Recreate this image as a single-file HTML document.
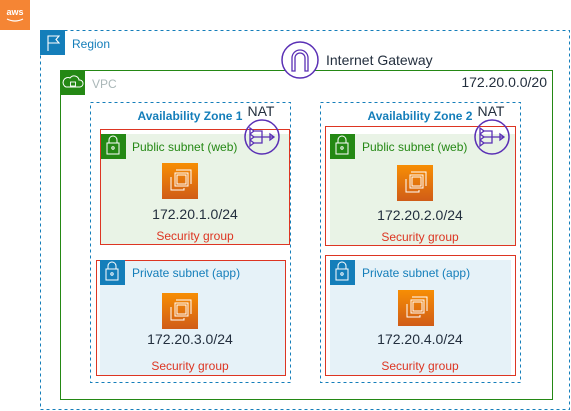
<!DOCTYPE html>
<html><head><meta charset="utf-8"><style>
html,body{margin:0;padding:0;background:#fff;}
svg{display:block;font-family:"Liberation Sans",sans-serif;}
</style></head><body>
<svg width="571" height="411" viewBox="0 0 571 411" xmlns="http://www.w3.org/2000/svg">
<rect x="0" y="0" width="30" height="30" fill="#F58534"/>
<text x="15" y="15" font-size="9" fill="#fff" text-anchor="middle" font-weight="bold">aws</text>
<path d="M7 19 Q15 23 23 19" stroke="#fff" stroke-width="1.2" fill="none"/>
<rect x="40.5" y="30.5" width="529" height="379" fill="none" stroke="#147EBA" stroke-dasharray="3,3"/>
<rect x="40" y="30" width="25" height="25" fill="#147EBA"/>
<path d="M48 51 V36 H59 L56 39.5 L59 43 H48" stroke="#fff" stroke-width="1.1" fill="none"/>
<text x="72" y="48" font-size="12" fill="#147EBA">Region</text>
<rect x="60.5" y="70.5" width="492" height="329" fill="none" stroke="#248814"/>
<rect x="60" y="70" width="25" height="25" fill="#248814"/>
<path d="M66 87 H80 A3.5 3.5 0 0 0 79 80 A5 5 0 0 0 70 78 A4 4 0 0 0 66 87 Z" stroke="#fff" stroke-width="1" fill="none"/>
<rect x="70.5" y="82" width="5" height="4" stroke="#fff" fill="none" stroke-width="0.9"/>
<text x="92" y="88" font-size="12" fill="#AAB7B8">VPC</text>
<text x="547" y="87" font-size="14" fill="#232F3E" text-anchor="end">172.20.0.0/20</text>
<circle cx="300" cy="60" r="18" fill="#fff" stroke="#5A30B5" stroke-width="1.5"/>
<path d="M292 71 V58 A8 8 0 0 1 308 58 V71 H305 V58 A5 5 0 0 0 295 58 V71 Z" stroke="#5A30B5" stroke-width="1.3" fill="none"/>
<text x="326" y="65" font-size="14" fill="#232F3E">Internet Gateway</text>
<rect x="90.5" y="102.5" width="200" height="280" fill="none" stroke="#147EBA" stroke-dasharray="3,3"/>
<text x="190" y="120" font-size="12" fill="#147EBA" font-weight="bold" text-anchor="middle">Availability Zone 1</text>
<rect x="320.5" y="102.5" width="200" height="280" fill="none" stroke="#147EBA" stroke-dasharray="3,3"/>
<text x="420" y="120" font-size="12" fill="#147EBA" font-weight="bold" text-anchor="middle">Availability Zone 2</text>

<rect x="101" y="134" width="189" height="111" fill="#E9F3E6"/>
<rect x="100.5" y="129.5" width="189" height="115" fill="none" stroke="#DD3522"/>
<rect x="101" y="134" width="25" height="25" fill="#248814"/>
<g stroke="#fff" fill="none" stroke-width="1"><rect x="107" y="143" width="12" height="11"/><path d="M109 143 V140 A4 4 0 0 1 117 140 V143"/><circle cx="113" cy="148" r="1.2"/></g>
<text x="132" y="151" font-size="12" fill="#248814">Public subnet (web)</text>
<rect x="330" y="134" width="185" height="111" fill="#E9F3E6"/>
<rect x="325.5" y="126.5" width="190" height="119" fill="none" stroke="#DD3522"/>
<rect x="330" y="134" width="25" height="25" fill="#248814"/>
<g stroke="#fff" fill="none" stroke-width="1"><rect x="336" y="143" width="12" height="11"/><path d="M338 143 V140 A4 4 0 0 1 346 140 V143"/><circle cx="342" cy="148" r="1.2"/></g>
<text x="362" y="151" font-size="12" fill="#248814">Public subnet (web)</text>

<rect x="100" y="260" width="185" height="116" fill="#E6F2F8"/>
<rect x="96.5" y="260.5" width="189" height="115" fill="none" stroke="#DD3522"/>
<rect x="100" y="260" width="25" height="25" fill="#147EBA"/>
<g stroke="#fff" fill="none" stroke-width="1"><rect x="106" y="269" width="12" height="11"/><path d="M108 269 V266 A4 4 0 0 1 116 266 V269"/><circle cx="112" cy="274" r="1.2"/></g>
<text x="132" y="277" font-size="12" fill="#147EBA">Private subnet (app)</text>
<rect x="330" y="260" width="181" height="116" fill="#E6F2F8"/>
<rect x="325.5" y="255.5" width="190" height="120" fill="none" stroke="#DD3522"/>
<rect x="330" y="260" width="25" height="25" fill="#147EBA"/>
<g stroke="#fff" fill="none" stroke-width="1"><rect x="336" y="269" width="12" height="11"/><path d="M338 269 V266 A4 4 0 0 1 346 266 V269"/><circle cx="342" cy="274" r="1.2"/></g>
<text x="362" y="277" font-size="12" fill="#147EBA">Private subnet (app)</text>

<defs>
<linearGradient id="ec2" x1="0" y1="0" x2="0" y2="1"><stop offset="0" stop-color="#F78E04"/><stop offset="1" stop-color="#D05C17"/></linearGradient>
<g id="chip">
<rect x="0" y="0" width="36" height="36" fill="url(#ec2)"/>
<g stroke="#fff" fill="none" stroke-width="1">
<path d="M9 14 V27 H22 V25"/><path d="M13 10 V23 H26 V10 Z"/><rect x="15" y="12" width="9" height="9"/>
<path d="M14 7 H29 V21"/>
</g></g>
</defs>
<use href="#chip" x="162" y="163"/>
<use href="#chip" x="397" y="165"/>
<use href="#chip" x="162" y="293"/>
<use href="#chip" x="398" y="290"/>

<g font-size="14" fill="#232F3E" text-anchor="middle">
<text x="195" y="219">172.20.1.0/24</text>
<text x="420" y="220">172.20.2.0/24</text>
<text x="190" y="344">172.20.3.0/24</text>
<text x="420" y="344">172.20.4.0/24</text>
</g>
<g font-size="12" fill="#DD3522" text-anchor="middle">
<text x="195" y="240">Security group</text>
<text x="420" y="241">Security group</text>
<text x="190" y="370">Security group</text>
<text x="420" y="370">Security group</text>
</g>

<g id="nat1">
<circle cx="262" cy="137" r="17" fill="none" stroke="#5A30B5" stroke-width="1.5"/>
<g stroke="#5A30B5" stroke-width="1.3" fill="none">
<path d="M253 131 H262 V143 H253 M253 137 H273"/>
<path d="M250 128 L254 131 L250 134 Z M250 134 L254 137 L250 140 Z M250 140 L254 143 L250 146 Z M270 134 L274 137 L270 140 Z"/>
</g></g>
<use href="#nat1" x="230" y="0"/>
<text x="261" y="116" font-size="14" fill="#232F3E" text-anchor="middle">NAT</text>
<text x="491" y="116" font-size="14" fill="#232F3E" text-anchor="middle">NAT</text>
</svg>
</body></html>
